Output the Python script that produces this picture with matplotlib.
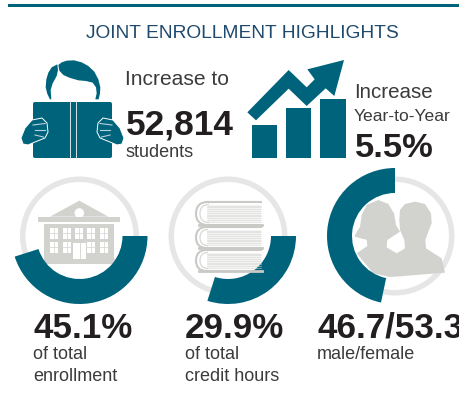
import matplotlib
matplotlib.use("Agg")
import matplotlib.pyplot as plt
from matplotlib.patches import Wedge, Circle, Polygon, Rectangle, FancyBboxPatch, PathPatch
from matplotlib.path import Path

plt.rcParams['font.family'] = ['Liberation Sans', 'DejaVu Sans']

title = "JOINT ENROLLMENT HIGHLIGHTS"
shares = [45.1, 29.9, 46.7]
share_labels = ["45.1%", "29.9%", "46.7/53.3"]
share_notes = [["of total", "enrollment"], ["of total", "credit hours"], ["male/female"]]
total_students = "52,814"
yearly_increase = "5.5%"

TEAL = "#00637c"
RING = "#e6e6e6"
ICON = "#d2d2cf"
DARK = "#231f20"
TEXT = "#3b3b3b"
NAVY = "#1f4a6d"

fig = plt.figure(figsize=(4.59, 4.04), dpi=100)
ax = fig.add_axes([0, 0, 1, 1])
# axes in image pixels, y pointing down
ax.set_xlim(0, 459)
ax.set_ylim(404, 0)
ax.axis("off")


def zoomed(points, ox=0, oy=0):
    return [(x / 3 + ox, y / 3 + oy) for x, y in points]


def put(x, y, s, size, bold=False, color=TEXT):
    ax.text(x, y, s, fontsize=size, fontweight="bold" if bold else "normal",
            color=color, va="baseline", ha="left")


def reader_icon():
    hair_l = [(150, 298), (142, 282), (137, 262), (139, 238), (145, 218), (155, 202), (172, 193),
              (174, 210), (170, 228), (158, 250), (152, 270), (154, 298)]
    hair_r = [(175, 195), (185, 187), (200, 182), (222, 181), (245, 187), (265, 198), (283, 215),
              (295, 238), (301, 262), (300, 280), (296, 298), (286, 298), (290, 280), (288, 262),
              (278, 248), (258, 243), (235, 241), (208, 233), (190, 225), (178, 212)]
    for pts in (hair_l, hair_r):
        ax.add_patch(Polygon(zoomed(pts), fc=TEAL, ec="none"))
    ax.add_patch(FancyBboxPatch((33, 102), 79, 56, boxstyle="round,pad=0,rounding_size=2",
                                fc=TEAL, ec="none"))
    ax.add_patch(Rectangle((69.5, 101), 1.2, 58, fc="#cfe0e5", ec="none"))
    ax.add_patch(Rectangle((75.5, 101), 1.2, 58, fc="#cfe0e5", ec="none"))
    hand = [(21, 138), (25, 128), (32, 120), (42, 118), (47, 123), (48, 132), (45, 138),
            (35, 142), (28, 145), (23, 144)]
    strokes = [((33, 125), (45, 123.5)), ((35, 130), (45, 130)), ((35, 135), (43.5, 137))]
    for mirror in (False, True):
        flip = (lambda x: 145 - x) if mirror else (lambda x: x)
        ax.add_patch(Polygon([(flip(x), y) for x, y in hand], fc=TEAL, ec="white", lw=0.7))
        for (x0, y0), (x1, y1) in strokes:
            ax.plot([flip(x0), flip(x1)], [y0, y1], color="#b5d3db", lw=0.8)


def growth_icon():
    arrow = [(52, 337), (176, 210), (230, 262), (254, 238), (232, 208), (342, 180),
             (313, 288), (287, 265), (230, 318), (176, 266), (78, 361)]
    ax.add_patch(Polygon(zoomed(arrow, 230), fc=TEAL, ec="none"))
    for x0, x1, top in ((252, 277, 125), (286, 311, 108), (320, 346, 99)):
        ax.add_patch(Rectangle((x0, top), x1 - x0, 158 - top, fc=TEAL, ec="none"))


def building_icon():
    roof = [(150, 170), (238, 122), (325, 170)]
    ax.add_patch(Polygon(zoomed(roof, 0, 160), fc=ICON, ec="none"))
    ax.add_patch(Circle((79.3, 213), 4.8, fc="white", ec="none"))
    ax.add_patch(Rectangle((38, 217), 82, 5, fc=ICON, ec="none"))
    ax.add_patch(Rectangle((44, 223.5), 70, 35, fc=ICON, ec="none"))
    ax.add_patch(Rectangle((41.5, 259), 76, 5, fc=ICON, ec="none"))
    for wx in (50, 62.7, 75, 87.3, 100):
        for wy in (228, 242):
            if wy == 242 and wx == 75:
                continue
            ax.add_patch(Rectangle((wx, wy), 8, 10.5, fc="white", ec="none"))
            ax.plot([wx + 4, wx + 4], [wy, wy + 10.5], color=ICON, lw=0.5)
            ax.plot([wx, wx + 8], [wy + 5, wy + 5], color=ICON, lw=0.5)
    ax.add_patch(Rectangle((73, 243), 13, 15.5, fc="white", ec="none"))
    ax.plot([79.5, 79.5], [243, 258], color=ICON, lw=0.6)


def book_spine(top, height, left, right, color, lw):
    # C shape: top edge, round back, bottom edge
    r = height / 2
    verts = [(right, top), (left + r, top), (left, top), (left, top + r),
             (left, top + height), (left + r, top + height), (right, top + height)]
    codes = [Path.MOVETO, Path.LINETO, Path.CURVE3, Path.CURVE3,
             Path.CURVE3, Path.CURVE3, Path.LINETO]
    ax.add_patch(PathPatch(Path(verts, codes), fc="none", ec=color, lw=lw))


def books_icon():
    for top, height in ((202, 23), (227, 21), (250, 21)):
        book_spine(top, height, 196, 262, "#c9c9c6", 1.5)
        book_spine(top + 2.5, height - 5, 200, 207, "#d8d8d6", 0.9)
        ax.add_patch(Rectangle((207, top + 3), 54, height - 6, fc="#f4f4f2", ec="none"))
        y = top + 3.5
        while y < top + height - 3:
            ax.plot([207, 261], [y, y], color="#d6d6d4", lw=0.4)
            y += 1.8
        ax.plot([199, 262], [top + height, top + height], color="#c9c9c6", lw=2)


def people_icon():
    woman = [(15, 135), (30, 110), (35, 75), (50, 45), (85, 30), (115, 42), (132, 70), (138, 105),
             (150, 125), (112, 150), (110, 172), (140, 190), (165, 205), (165, 258), (120, 261),
             (70, 250), (20, 190), (52, 168), (50, 150), (15, 140)]
    man = [(148, 90), (150, 60), (165, 42), (195, 35), (225, 42), (243, 70), (245, 100), (235, 125),
           (226, 150), (228, 175), (275, 205), (285, 248), (160, 258), (140, 190), (165, 175),
           (163, 150), (150, 120)]
    ax.add_patch(Polygon(zoomed(woman, 350, 190), fc=ICON, ec="none"))
    ax.add_patch(Polygon(zoomed(man, 350, 190), fc=ICON, ec="none"))
    for x in (45, 120):
        ax.plot(*zip(*zoomed([(x, 148), (x, 160)], 350, 190)), color="white", lw=0.6)


# top rule and title
ax.add_patch(Rectangle((8, 4), 451, 3, fc=TEAL, ec="none"))
put(86, 38, title, 13.8, color=NAVY)

reader_icon()
put(125, 85, "Increase to", 15.1)
put(126, 134, total_students, 25.4, bold=True, color=DARK)
put(125, 157, "students", 13)

growth_icon()
put(354, 98, "Increase", 14.8)
put(354, 121, "Year-to-Year", 12.6)
put(355, 157, yearly_increase, 24.8, bold=True, color=DARK)

# share rings, centres and start angles per panel
centres = [79.5, 228, 395]
starts = [0, 0, -90]
directions = [1, 1, -1]
label_x = [33, 185, 317]
icons = [building_icon, books_icon, people_icon]

for i, share in enumerate(shares):
    cx = centres[i]
    ax.add_patch(Wedge((cx, 236), 59.5, 0, 360, width=5.5, fc=RING, ec="none"))
    icons[i]()
    sweep = share / 100 * 360
    a0 = starts[i]
    a1 = a0 + directions[i] * sweep
    ax.add_patch(Wedge((cx, 236), 68, min(a0, a1), max(a0, a1), width=25, fc=TEAL, ec="none"))
    put(label_x[i], 338, share_labels[i], 25.2, bold=True, color=DARK)
    for j, note in enumerate(share_notes[i]):
        put(label_x[i], 359 + j * 22, note, 13)

fig.savefig("out.png", dpi=100, facecolor="white")
